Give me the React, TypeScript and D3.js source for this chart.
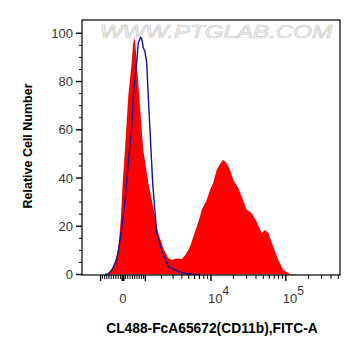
import React from 'react';
import * as d3 from 'd3';

const W = 361;
const H = 356;

// Y axis ticks (Relative Cell Number)
const yMajorTicks = [0, 20, 40, 60, 80, 100];
const yMinorTicks = [5, 10, 15, 25, 30, 35, 45, 50, 55, 65, 70, 75, 85, 90, 95];

// X axis (logicle-like) ticks
const xMajorTicks = [-1000, 0, 1000, 10000, 100000];
const xMinorTicks = [
  -900, -800, -700, -600, -500, -400, -300, -200, -100,
  100, 200, 300, 400, 500, 600, 700, 800, 900,
  2000, 3000, 4000, 5000, 6000, 7000, 8000, 9000,
  20000, 30000, 40000, 50000, 60000, 70000, 80000, 90000,
  200000, 300000, 400000, 500000,
];
const xTickLabels = [
  { v: 0, base: '0', exp: '' },
  { v: 10000, base: '10', exp: '4' },
  { v: 100000, base: '10', exp: '5' },
];

// Stained sample (red filled histogram)
const redX = [-1307, -703, -552, -407, -292, -195, -83, -12, 83, 220, 364, 420, 477, 530, 584, 703, 817, 896, 1156, 1348, 1764, 2182, 2541, 2885, 3299, 4014, 4567, 5187, 6407, 7105, 7492, 8754, 9697, 10741, 11933, 13924, 14626, 16243, 17982, 19910, 23213, 25774, 30047, 35035, 40858, 47652, 52720, 58355, 68047, 79343, 92500, 113610, 154413];
const redY = [0, 0, 1, 3.2, 6.8, 10.2, 23.9, 38, 51.7, 73.8, 87.8, 95, 98.4, 95, 87.8, 73.8, 60, 51.7, 38, 31, 17.2, 10.2, 6.8, 6, 6.6, 6.4, 8.5, 11.5, 19.8, 24, 26.8, 30.9, 35, 38, 43.4, 46.8, 47.5, 46.1, 43.4, 39.2, 35.9, 32.3, 26.8, 25.5, 21.9, 17.2, 18.5, 17.2, 11.5, 6, 1.9, 0.2, 0];

// Control (blue outline histogram)
const blueX = [-784, -643, -464, -262, -124, 12, 124, 271, 364, 433, 584, 657, 769, 832, 896, 981, 1070, 1156, 1250, 1307, 1407, 1657, 2006, 2541, 3190, 4147, 5187, 7105];
const blueY = [0, 0.2, 1.9, 6, 14, 23.9, 35, 51.7, 60, 73.8, 87.8, 96, 98.4, 97.3, 94, 92.4, 87.8, 73.8, 60, 51.7, 38, 17.2, 10.2, 3.2, 1.9, 0.6, 0.2, 0];

const LEFT = 82;
const RIGHT = 340;
const TOP = 20;
const BOTTOM = 275;

const C = 1348;
const tf = (v: number) => Math.asinh(v / C);
const xLin = d3.scaleLinear().domain([tf(-2178), tf(527000)]).range([LEFT, RIGHT]);
const x = (v: number) => xLin(tf(v));
const y = d3.scaleLinear().domain([0, 100]).range([274.5, 33.3]);

const FONT = 'Arial, "Liberation Sans", Helvetica, sans-serif';

export default function App() {
  const redPts = redX.map((v, i) => [v, redY[i]] as [number, number]);
  const bluePts = blueX.map((v, i) => [v, blueY[i]] as [number, number]);
  const area = d3
    .area<[number, number]>()
    .x((d) => x(d[0]))
    .y0(y(0))
    .y1((d) => y(d[1]))
    .curve(d3.curveLinear);
  const line = d3
    .line<[number, number]>()
    .x((d) => x(d[0]))
    .y((d) => y(d[1]))
    .curve(d3.curveLinear);

  return (
    <svg
      width={W}
      height={H}
      style={{ position: 'absolute', left: 0, top: 0, background: '#fff' }}
    >
      <rect x={0} y={0} width={W} height={H} fill="#fff" />
      {/* watermark */}
      <text
        x={100}
        y={38}
        fontFamily={FONT}
        fontSize={18}
        fontStyle="italic"
        textLength={232}
        lengthAdjust="spacingAndGlyphs"
        fill="#f4f4f4"
        stroke="#cfcfcf"
        strokeWidth={0.7}
      >
        WWW.PTGLAB.COM
      </text>

      <path d={area(redPts) || ''} fill="#ff0000" />
      <path d={line(bluePts) || ''} fill="none" stroke="#12129a" strokeWidth={1.4} strokeLinejoin="round" />

      {/* frame */}
      <rect x={LEFT} y={TOP} width={RIGHT - LEFT} height={BOTTOM - TOP} fill="none" stroke="#000" strokeWidth={1.2} />

      {/* y axis ticks */}
      {yMajorTicks.map((t) => (
        <g key={'ym' + t}>
          <line x1={76} x2={LEFT} y1={y(t)} y2={y(t)} stroke="#000" strokeWidth={1.4} />
          <text
            x={73}
            y={y(t) + 4.5}
            textAnchor="end"
            fontFamily={FONT}
            fontSize={13}
            fill="#333"
          >
            {t}
          </text>
        </g>
      ))}
      {yMinorTicks.map((t) => (
        <line key={'yn' + t} x1={79} x2={LEFT} y1={y(t)} y2={y(t)} stroke="#000" strokeWidth={1} />
      ))}

      {/* x axis ticks */}
      {xMajorTicks.map((t) => (
        <line key={'xm' + t} x1={x(t)} x2={x(t)} y1={BOTTOM} y2={281} stroke="#000" strokeWidth={t === 0 ? 3 : 1.4} />
      ))}
      {xMinorTicks.map((t) => (
        <line key={'xn' + t} x1={x(t)} x2={x(t)} y1={BOTTOM} y2={279} stroke="#000" strokeWidth={1} />
      ))}
      {xTickLabels.map((l) =>
        l.exp === '' ? (
          <text key={'xl' + l.v} x={x(l.v)} y={303} textAnchor="middle" fontFamily={FONT} fontSize={13} fill="#333">
            {l.base}
          </text>
        ) : (
          <text key={'xl' + l.v} x={x(l.v) - 3} y={303} fontFamily={FONT} fontSize={13} fill="#333">
            {l.base}
            <tspan dy={-8} fontSize={12}>
              {l.exp}
            </tspan>
          </text>
        )
      )}

      {/* axis titles */}
      <text
        x={212}
        y={333}
        textAnchor="middle"
        fontFamily={FONT}
        fontSize={13.8}
        fontWeight="bold"
        fill="#000"
      >
        CL488-FcA65672(CD11b),FITC-A
      </text>
      <text
        transform={`translate(31.5,146) rotate(-90)`}
        textAnchor="middle"
        fontFamily={FONT}
        fontSize={12.5}
        fontWeight="bold"
        fill="#000"
      >
        Relative Cell Number
      </text>
    </svg>
  );
}
